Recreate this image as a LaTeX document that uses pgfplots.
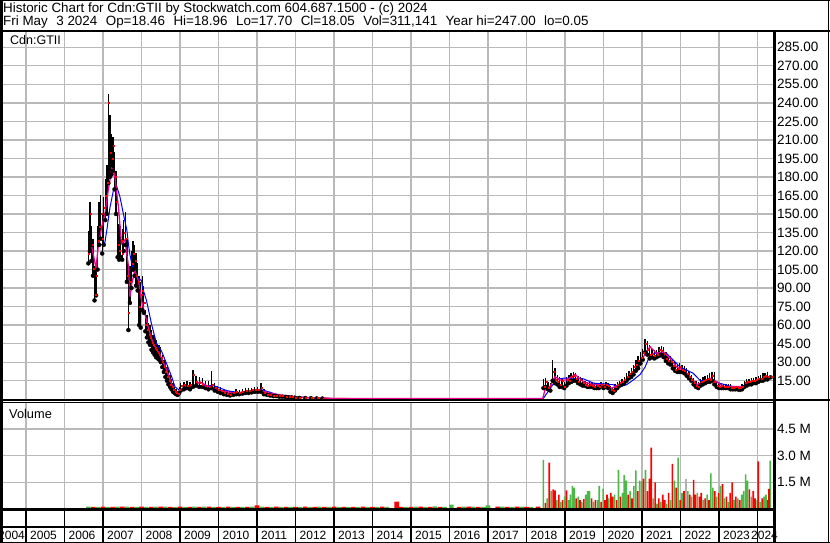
\documentclass[border=0pt]{standalone}
\usepackage{pgfplots}
\pgfplotsset{compat=1.18}
\usepackage{pgfplotstable}
\usepackage{fontspec}
\setmainfont{Liberation Sans}
\definecolor{gridgray}{RGB}{185,185,185}
\definecolor{vgreen}{RGB}{76,184,72}
\definecolor{vgray}{RGB}{176,176,176}

% high-low bars with close
\pgfplotstableread{
t lo hi cl
2006.62 110 136 118
2006.66 120 160 150
2006.70 112 140 125
2006.74 100 130 106
2006.78 80 108 85
2006.82 84 110 100
2006.86 105 140 128
2006.90 125 160 140
2006.94 130 165 150
2006.98 118 150 130
2007.02 125 164 155
2007.06 145 178 165
2007.10 150 190 175
2007.14 175 247 240
2007.18 180 230 200
2007.22 182 215 195
2007.26 185 212 205
2007.30 170 200 180
2007.34 150 185 160
2007.38 115 150 125
2007.42 113 142 120
2007.46 115 140 128
2007.50 113 138 118
2007.54 120 145 135
2007.58 125 152 130
2007.62 95 130 100
2007.66 56 105 70
2007.70 78 108 95
2007.74 90 120 110
2007.78 105 128 118
2007.82 100 125 112
2007.86 92 118 100
2007.90 88 110 95
2007.94 60 100 75
2007.98 58 95 85
2008.02 72 100 88
2008.06 70 92 78
2008.10 55 72 60
2008.14 50 68 56
2008.18 46 62 52
2008.22 44 60 50
2008.26 40 56 46
2008.30 38 52 44
2008.34 36 50 42
2008.38 34 48 40
2008.42 33 45 38
2008.46 32 44 36
2008.50 30 42 34
2008.54 26 36 30
2008.58 22 32 26
2008.62 18 30 22
2008.66 15 26 18
2008.70 12 24 15
2008.74 10 20 12
2008.78 8 16 10
2008.82 6 13 8
2008.86 5 10 6
2008.90 4 8 5
2008.94 3.5 7 4.5
2008.98 5 10 8
2009.02 7 13 11
2009.10 8 14 12
2009.18 9 15 11
2009.26 8 14 12
2009.34 10 24 20
2009.42 11 19 14
2009.50 10 18 13
2009.58 10 17 12
2009.66 9 15 11
2009.74 8 15 10
2009.82 9 23 12
2009.90 7 13 9
2009.98 6 11 8
2010.06 5 10 7
2010.14 4 8 5
2010.22 3.5 7 4.5
2010.30 3 6.5 4
2010.38 3.5 7 5
2010.46 4 8 6
2010.54 4 7.5 5.5
2010.62 4.5 8 6
2010.70 5 9 7
2010.78 5 9 7
2010.86 5.5 9 7.5
2010.94 6 9.5 8
2011.02 6 10 8
2011.10 6 13 9
2011.18 4 8 5
2011.26 3.5 6 4
2011.34 3 5.5 3.5
2011.42 2.5 5 3
2011.50 2.5 4.5 3
2011.58 2 4 2.5
2011.66 2 3.5 2.5
2011.74 1.8 3 2.2
2011.82 1.5 2.8 2
2011.90 1.4 2.5 1.8
2011.98 1.2 2.2 1.6
2012.10 1 2 1.4
2012.25 0.9 1.6 1.2
2012.40 0.8 1.4 1
2012.55 0.6 1.2 0.9
2012.70 0.5 1 0.8
2018.44 9 16 10
2018.50 10 17 14
2018.56 8 14 9
2018.62 7 13 11
2018.68 15 32 22
2018.74 13 25 16
2018.80 12 20 14
2018.86 10 18 12
2018.92 10 17 15
2018.98 9 14 10
2019.04 11 18 16
2019.10 13 20 15
2019.16 14 21 18
2019.22 15 22 19
2019.28 15 21 17
2019.34 13 19 14
2019.40 12 18 16
2019.46 11 17 13
2019.52 11 15 12
2019.58 10 14 11
2019.64 10 14 12
2019.70 10 14 11
2019.76 9 13 10
2019.82 9 13 11
2019.88 9 13 10
2019.94 10 14 12
2020.00 9 13 10
2020.06 10 14 12
2020.12 9 13 11
2020.18 6 11 8
2020.24 5 10 7
2020.30 7 12 10
2020.36 9 14 12
2020.42 11 15 13
2020.48 12 16 14
2020.54 13 18 16
2020.60 15 21 18
2020.66 17 23 21
2020.72 18 25 22
2020.78 20 28 26
2020.84 23 32 28
2020.90 25 35 31
2020.96 29 38 34
2021.02 32 41 38
2021.08 38 49 45
2021.14 36 47 40
2021.20 33 44 36
2021.26 34 41 37
2021.32 33 40 35
2021.38 34 40 36
2021.44 35 42 40
2021.50 36 43 39
2021.56 34 42 37
2021.62 31 38 33
2021.68 29 36 31
2021.74 28 35 30
2021.80 25 32 27
2021.86 23 30 24
2021.92 22 28 25
2021.98 22 29 26
2022.04 22 28 24
2022.10 21 27 23
2022.16 19 25 21
2022.22 17 23 18
2022.28 15 20 16
2022.34 12 17 13
2022.40 10 15 11
2022.46 9 14 10
2022.52 11 16 14
2022.58 12 18 15
2022.64 13 19 16
2022.70 14 20 17
2022.76 14 21 16
2022.82 15 22 19
2022.88 12 22 14
2022.94 10 14 11
2023.00 9 13 10
2023.06 9 13 11
2023.12 9 12 10
2023.18 9 12 10
2023.24 9 12 10
2023.30 8 12 9
2023.36 8 11 9
2023.42 8 11 10
2023.48 8 11 9
2023.54 7.5 11 9
2023.60 8 12 10
2023.66 10 15 13
2023.72 11 16 14
2023.78 12 16 14
2023.84 12 17 15
2023.90 13 17 15
2023.96 13 18 16
2024.02 14 19 17
2024.08 15 20 17
2024.14 15 21 18
2024.20 16 21 19
2024.26 16 22 18
2024.34 17.70 18.96 18.05
}\pricetab

% close price during the flat years
\pgfplotstableread{
t cl
2012.70 0.8
2013.20 0.5
2014.00 0.4
2015.00 0.4
2016.00 0.4
2017.00 0.4
2018.00 0.4
2018.42 0.4
}\flattab

% short moving average (magenta)
\pgfplotstableread{
t v
2006.71 123
2006.82 106
2006.88 125
2006.97 140
2007.05 150
2007.14 170
2007.23 187
2007.27 186
2007.31 180
2007.40 156
2007.48 126
2007.57 129
2007.66 108
2007.70 83
2007.75 94
2007.83 104
2007.92 96
2008.00 80
2008.09 69
2008.17 59
2008.30 45
2008.48 36
2008.65 24
2008.83 8
2008.96 5
2009.09 9
2009.35 10
2009.52 14
2009.69 11
2010.04 7
2010.39 5
2010.75 6
2011.08 7.5
2011.30 5
2011.60 3.5
2012.00 2
2012.50 1
2013.00 0.5
2018.42 0.5
2018.48 7.4
2018.61 10.2
2018.74 18.3
2018.87 15.5
2019.04 15.5
2019.26 20
2019.48 14
2019.74 11.7
2020.00 11.7
2020.21 9
2020.43 11.7
2020.69 18.3
2020.91 25
2021.08 37
2021.21 42.5
2021.38 37
2021.55 38.5
2021.73 33
2021.90 26
2022.07 23.6
2022.25 18.3
2022.42 11.7
2022.59 14
2022.77 17
2022.94 14
2023.11 10.2
2023.37 10.2
2023.63 10.2
2023.80 14
2024.06 15.5
2024.34 18.3
}\matab

% long moving average (blue)
\pgfplotstableread{
t v
2006.96 125
2007.05 127
2007.10 137
2007.18 155
2007.27 169
2007.36 172
2007.44 164
2007.53 150
2007.62 137
2007.66 126
2007.70 117
2007.79 104
2007.88 99
2008.00 96
2008.05 88
2008.13 80
2008.26 61
2008.39 45
2008.52 39
2008.65 29
2008.78 18.5
2008.87 10
2009.00 7
2009.17 8.5
2009.35 10
2009.52 11
2009.87 11
2010.21 7
2010.56 5
2010.90 6.5
2011.08 8
2011.30 6
2011.60 3
2012.20 1.5
2013.00 0.5
2018.43 0.3
2018.78 16
2018.96 17
2019.22 17
2019.48 16.5
2019.74 13
2020.00 12.4
2020.25 11.7
2020.43 10.2
2020.60 11.7
2020.77 15.5
2020.95 20
2021.08 26
2021.21 35.7
2021.29 37
2021.46 37.7
2021.64 37
2021.81 31.7
2021.98 26.3
2022.16 23.6
2022.33 21
2022.50 15.5
2022.68 14
2022.85 15.5
2023.02 12.9
2023.28 10.7
2023.54 9.6
2023.80 12.9
2024.06 15
2024.34 16.8
}\mbtab

% volume (millions), up weeks
\pgfplotstableread{
t v
2018.44 2.76
2018.54 0.6
2018.64 1.0
2018.79 0.5
2018.89 0.4
2018.99 0.7
2019.09 0.5
2019.14 0.8
2019.19 1.3
2019.24 1.2
2019.34 0.7
2019.44 0.4
2019.54 0.8
2019.59 1.0
2019.64 1.0
2019.74 0.4
2019.84 0.5
2019.89 1.3
2019.99 1.15
2020.14 0.6
2020.29 0.8
2020.39 2.2
2020.49 0.9
2020.54 1.9
2020.59 1.6
2020.69 1.0
2020.79 1.3
2020.84 2.17
2020.94 1.6
2020.99 1.55
2021.09 2.2
2021.29 0.6
2021.39 0.3
2021.49 0.4
2021.64 0.3
2021.74 0.5
2021.84 1.6
2021.94 2.88
2022.04 0.9
2022.19 1.0
2022.29 0.7
2022.44 0.9
2022.59 0.5
2022.69 0.8
2022.79 2.0
2022.84 1.2
2022.94 0.7
2023.04 1.3
2023.14 0.6
2023.24 0.4
2023.39 0.5
2023.49 0.6
2023.59 0.8
2023.64 1.0
2023.69 1.94
2023.74 1.6
2023.84 0.7
2023.99 0.5
2024.07 0.4
2024.17 0.7
2024.22 0.8
2024.33 2.72
}\volg

% volume (millions), down weeks
\pgfplotstableread{
t v
2018.49 0.35
2018.59 2.6
2018.69 1.1
2018.74 1.05
2018.84 0.8
2018.94 0.5
2019.04 1.05
2019.29 0.6
2019.39 0.5
2019.49 0.55
2019.69 0.6
2019.79 0.5
2019.94 0.4
2020.04 0.5
2020.09 0.8
2020.19 0.9
2020.24 0.7
2020.34 0.5
2020.44 0.7
2020.64 0.8
2020.74 0.6
2020.89 1.0
2021.04 1.7
2021.14 1.0
2021.19 1.7
2021.24 3.44
2021.34 1.5
2021.44 0.6
2021.54 0.8
2021.59 0.5
2021.69 0.9
2021.79 2.54
2021.89 1.2
2021.99 0.5
2022.09 1.0
2022.24 0.8
2022.34 1.64
2022.39 0.8
2022.49 0.7
2022.54 0.9
2022.64 0.6
2022.74 0.5
2022.89 1.0
2022.99 0.9
2023.09 1.4
2023.19 0.7
2023.29 0.9
2023.34 1.5
2023.44 0.7
2023.54 0.5
2023.79 1.1
2023.89 1.0
2023.94 0.6
2024.02 2.67
2024.12 0.6
2024.27 0.5
2024.30 1.13
}\volr

% early thin volume, up / down
\pgfplotstableread{
t v
2006.62 0.13
2006.87 0.12
2007.12 0.12
2007.37 0.13
2007.62 0.13
2007.87 0.12
2008.12 0.12
2008.37 0.13
2008.62 0.14
2008.87 0.12
2009.12 0.12
2009.37 0.13
2009.62 0.14
2009.87 0.12
2010.12 0.12
2010.37 0.12
2010.62 0.12
2010.87 0.13
2011.12 0.13
2011.37 0.12
2011.62 0.12
2011.87 0.12
2012.12 0.12
2012.37 0.12
2012.62 0.13
2012.87 0.12
2013.12 0.12
2013.37 0.12
2013.62 0.12
2013.87 0.12
2014.12 0.12
2014.37 0.12
2014.87 0.12
2015.12 0.13
2015.37 0.12
2015.62 0.15
2015.87 0.12
2016.05 0.24
2016.37 0.13
2016.62 0.13
2016.87 0.12
2017.00 0.2
2017.37 0.13
2017.62 0.12
2017.87 0.13
2018.12 0.12
}\voleg
\pgfplotstableread{
t v
2006.75 0.12
2007.00 0.13
2007.25 0.12
2007.50 0.13
2007.75 0.12
2008.00 0.13
2008.25 0.12
2008.50 0.13
2008.75 0.12
2009.00 0.13
2009.25 0.12
2009.50 0.12
2009.75 0.13
2010.00 0.12
2010.25 0.13
2010.50 0.12
2010.75 0.12
2011.00 0.2
2011.25 0.12
2011.50 0.13
2011.75 0.12
2012.00 0.12
2012.25 0.13
2012.50 0.12
2012.75 0.12
2013.00 0.13
2013.25 0.12
2013.50 0.12
2013.75 0.13
2014.00 0.12
2014.25 0.13
2014.63 0.42
2014.75 0.12
2015.00 0.12
2015.25 0.13
2015.50 0.12
2015.75 0.12
2016.25 0.12
2016.50 0.13
2016.75 0.12
2017.25 0.13
2017.50 0.12
2017.75 0.13
2018.00 0.12
2018.30 0.13
}\voler

\begin{document}
\begin{tikzpicture}[x=1pt,y=1pt]
\useasboundingbox (0,0) rectangle (830,543);

% ---------------- price panel ----------------
\begin{axis}[
  at={(0pt,143pt)}, anchor=south west,
  scale only axis, width=774pt, height=368pt,
  xmin=2004.325, xmax=2024.429,
  ymin=-0.65, ymax=297.4,
  axis line style={draw=none},
  tick style={draw=none},
  xtick={2005,2006,...,2024}, xticklabels={},
  ytick={15,30,...,285},
  yticklabel pos=right,
  scaled y ticks=false,
  yticklabel style={anchor=west, inner sep=0pt, xshift=3pt, text=black,
    font=\fontsize{13.5}{14}\selectfont,
    /pgf/number format/.cd, fixed, fixed zerofill, precision=2, assume math mode=true},
]
% grid of the panel (year boundaries and price levels)
\addplot[gridgray, line width=1.3pt, forget plot, ycomb] coordinates {
(2005,297.4) (2006,297.4) (2007,297.4) (2008,297.4) (2009,297.4) (2010,297.4) (2011,297.4) (2012,297.4) (2013,297.4) (2014,297.4)
(2015,297.4) (2016,297.4) (2017,297.4) (2018,297.4) (2019,297.4) (2020,297.4) (2021,297.4) (2022,297.4) (2023,297.4) (2024,297.4)};
\addplot[gridgray, line width=1.3pt, forget plot, xcomb] coordinates {
(2024.429,15) (2024.429,30) (2024.429,45) (2024.429,60) (2024.429,75) (2024.429,90) (2024.429,105) (2024.429,120) (2024.429,135) (2024.429,150)
(2024.429,165) (2024.429,180) (2024.429,195) (2024.429,210) (2024.429,225) (2024.429,240) (2024.429,255) (2024.429,270) (2024.429,285)};
\addplot[only marks, mark=none, forget plot,
  error bars/.cd, y dir=plus, y explicit, error mark=none,
  error bar style={black, line width=1.4pt}]
  table[x=t, y=lo, y error plus expr=\thisrow{hi}-\thisrow{lo}] {\pricetab};
\addplot[only marks, mark=square*, mark size=0.5pt, red, mark options={draw=none, fill=red, xshift=0.8pt}]
  table[x=t, y=cl] {\pricetab};
\addplot[red, line width=1.2pt] table[x=t, y=cl] {\flattab};
\addplot[blue, line width=1pt] table[x=t, y=v] {\mbtab};
\addplot[magenta, line width=1.3pt] table[x=t, y=v] {\matab};
\end{axis}

% ---------------- volume panel ----------------
\begin{axis}[
  at={(0pt,34pt)}, anchor=south west,
  scale only axis, width=774pt, height=106.5pt,
  xmin=2004.325, xmax=2024.429,
  ymin=0, ymax=5.98,
  axis line style={draw=none},
  tick style={draw=none},
  xtick={2005,2006,...,2024}, xticklabels={},
  ytick={1.5,3,4.5}, yticklabels={1.5 M,3.0 M,4.5 M},
  yticklabel pos=right,
  yticklabel style={anchor=west, inner sep=0pt, xshift=3pt, text=black,
    font=\fontsize{13.5}{14}\selectfont},
]
\addplot[gridgray, line width=1.3pt, forget plot, ycomb] coordinates {
(2005,5.98) (2006,5.98) (2007,5.98) (2008,5.98) (2009,5.98) (2010,5.98) (2011,5.98) (2012,5.98) (2013,5.98) (2014,5.98)
(2015,5.98) (2016,5.98) (2017,5.98) (2018,5.98) (2019,5.98) (2020,5.98) (2021,5.98) (2022,5.98) (2023,5.98) (2024,5.98)};
\addplot[gridgray, line width=1.3pt, forget plot, xcomb] coordinates {
(2024.429,1.5) (2024.429,3) (2024.429,4.5)};
\addplot[ybar, bar width=4.6pt, bar shift=0pt, fill=vgreen, draw=none] table[x=t, y=v] {\voleg};
\addplot[ybar, bar width=4.6pt, bar shift=0pt, fill=red, draw=none] table[x=t, y=v] {\voler};
\addplot[ybar, bar width=1.6pt, bar shift=0pt, fill=vgreen, draw=none] table[x=t, y=v] {\volg};
\addplot[ybar, bar width=1.6pt, bar shift=0pt, fill=red, draw=none] table[x=t, y=v] {\volr};
\addplot[ybar, bar width=1.6pt, bar shift=0pt, fill=vgray, draw=none] coordinates {(2022.14,1.7)};
\end{axis}

% ---------------- frame lines ----------------
\draw[line width=2.3pt] (0,512.3) -- (830,512.3);
\draw[line width=2.3pt] (774.5,0) -- (774.5,512.3);
\draw[line width=1.4pt] (0,143) -- (830,143);
\draw[line width=1pt] (0,140.5) -- (774.5,140.5);
\draw[line width=2.3pt] (0,33.5) -- (774.5,33.5);
\draw[line width=2pt] (0,16.3) -- (774.5,16.3);
\foreach \yr in {2005,...,2024}{
  \pgfmathsetmacro{\xx}{(\yr-2004.325)*38.5}
  \draw[line width=1.3pt] (\xx,0) -- (\xx,33.5);
}
\draw[line width=2.6pt] (1.3,0) -- (1.3,543);
\draw[line width=1.4pt] (0,542.3) -- (830,542.3);
\draw[line width=1.4pt] (828.3,0) -- (828.3,543);
\draw[line width=1.4pt] (0,0.7) -- (830,0.7);

% ---------------- texts ----------------
\node[anchor=base west, inner sep=0pt, text height=9.8pt, font=\fontsize{13.4}{15}\selectfont] at (3,530.5)
  {Historic Chart for Cdn:GTII by Stockwatch.com 604.687.1500 - (c) 2024};
\node[anchor=base west, inner sep=0pt, text height=9.8pt, font=\fontsize{13.4}{15}\selectfont] at (3,517)
  {Fri May\hspace{8.5pt}3 2024\hspace{8.5pt}Op=18.46\hspace{8.5pt}Hi=18.96\hspace{8.5pt}Lo=17.70\hspace{8.5pt}Cl=18.05\hspace{8.5pt}Vol=311,141\hspace{8.5pt}Year hi=247.00\hspace{8.5pt}lo=0.05};
\node[anchor=base west, inner sep=0pt, font=\fontsize{12.5}{14}\selectfont] at (10,498) {Cdn:GTII};
\node[anchor=base west, inner sep=0pt, font=\fontsize{12.8}{14}\selectfont] at (9,124.7) {Volume};
\node[anchor=base west, inner sep=0pt, font=\fontsize{12}{14}\selectfont] at (-2,3) {2004};
\foreach \yr in {2005,...,2023}{
  \pgfmathsetmacro{\xx}{(\yr-2004.325)*38.5+4}
  \node[anchor=base west, inner sep=0pt, font=\fontsize{12}{14}\selectfont] at (\xx,3) {\yr};
}
\node[anchor=base west, inner sep=0pt, font=\fontsize{12}{14}\selectfont] at (751,3) {2024};
\end{tikzpicture}
\end{document}
